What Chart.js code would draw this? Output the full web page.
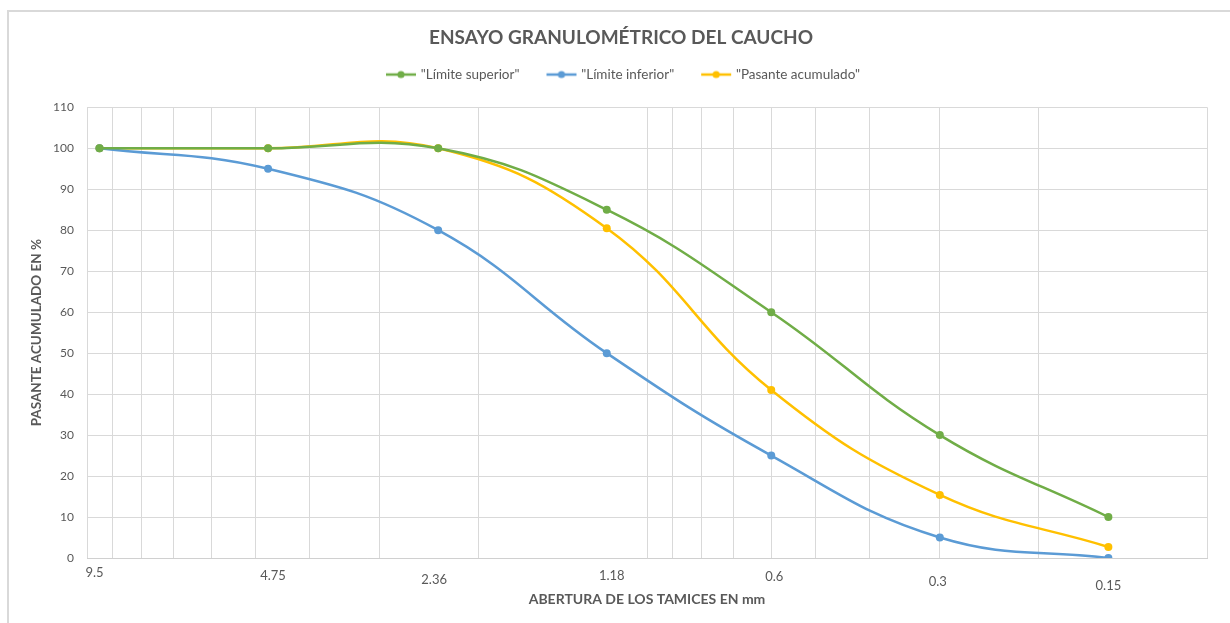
<!DOCTYPE html>
<html>
<head>
<meta charset="utf-8">
<script src="https://cdn.jsdelivr.net/npm/chart.js@4.4.1/dist/chart.umd.min.js"></script>
<style>
  html, body { margin: 0; padding: 0; background: #ffffff; overflow: hidden; }
  #wrap { position: relative; width: 1230px; height: 623px; overflow: hidden; }
  #frame { position: absolute; left: 7px; top: 10px; width: 1300px; height: 700px;
           border: 2px solid #d9d9d9; box-sizing: border-box; }
  #c { position: absolute; left: 0; top: 0; }
</style>
</head>
<body>
<div id="wrap">
  <div id="frame"></div>
  <canvas id="c" width="1242" height="623"></canvas>
</div>
<script>
// Sieve openings (mm) and cumulative passing percentages
const sieves = [9.5, 4.75, 2.36, 1.18, 0.6, 0.3, 0.15];
const sieveLabels = ['9.5', '4.75', '2.36', '1.18', '0.6', '0.3', '0.15'];
const limiteSuperior = [100, 100, 100, 85, 60, 30, 10];
const limiteInferior = [100, 95, 80, 50, 25, 5, 0];
const pasanteAcumulado = [100, 100, 100, 80.5, 41, 15.4, 2.7];

// Log-scale grid positions for the opening axis
const gridValues = [10, 9, 8, 7, 6, 5, 4, 3, 2, 1, 0.9, 0.8, 0.7, 0.6, 0.5, 0.4, 0.3, 0.2, 0.1];
const yTicks = [0, 10, 20, 30, 40, 50, 60, 70, 80, 90, 100, 110];

// Small nudges for the opening labels under the axis (px)
const labelNudgeX = [-5, 5, -4, 5, 3, -2, 0];
const labelNudgeY = [15, 18, 22, 18, 19, 24, 28];

const GREEN = '#70ad47', BLUE = '#5b9bd5', GOLD = '#ffc000';
const GRAY_TEXT = '#595959', GRID = '#d9d9d9';
const FONT = 'Lato, "Open Sans", sans-serif';

function pairs(ys) { return sieves.map((x, i) => ({ x: x, y: ys[i] })); }

// Legend swatch: short line with a dot in the middle
function swatch(color) {
  const cv = document.createElement('canvas');
  cv.width = 60; cv.height = 10;
  const g = cv.getContext('2d');
  g.strokeStyle = color; g.lineWidth = 2.5;
  g.beginPath(); g.moveTo(27, 5); g.lineTo(57, 5); g.stroke();
  g.fillStyle = color;
  g.beginPath(); g.arc(42, 5, 3.6, 0, Math.PI * 2); g.fill();
  return cv;
}

const series = [
  { label: '"Límite superior"', values: limiteSuperior, color: GREEN },
  { label: '"Límite inferior"', values: limiteInferior, color: BLUE },
  { label: '"Pasante acumulado"', values: pasanteAcumulado, color: GOLD }
];

const datasets = series.map(s => ({
  label: s.label,
  data: pairs(s.values),
  borderColor: s.color,
  backgroundColor: s.color,
  borderWidth: 2.5,
  pointRadius: 4,
  pointHoverRadius: 4,
  pointBorderWidth: 0,
  tension: 0.42,
  fill: false,
  swatchImg: swatch(s.color)
}));

// Extra room under the legend, and its row nudged left to sit under the title
const legendSpacing = {
  id: 'legendSpacing',
  beforeInit(chart) {
    const lg = chart.legend;
    const fit = lg.fit;
    lg.fit = function () { fit.call(this); this.height += 16; };
    const draw = lg.draw;
    lg.draw = function () { this.left -= 18; draw.call(this); this.left += 18; };
  }
};

const openingLabels = {
  id: 'openingLabels',
  afterDraw(chart) {
    const x = chart.scales.x, ctx = chart.ctx, b = chart.chartArea.bottom;
    ctx.save();
    ctx.font = '13px ' + FONT;
    ctx.fillStyle = GRAY_TEXT;
    ctx.textAlign = 'center';
    ctx.textBaseline = 'middle';
    sieves.forEach((v, i) => {
      ctx.fillText(sieveLabels[i], x.getPixelForValue(v) + labelNudgeX[i], b + labelNudgeY[i]);
    });
    ctx.restore();
  }
};

new Chart(document.getElementById('c'), {
  type: 'line',
  data: { datasets: datasets },
  plugins: [legendSpacing, openingLabels],
  options: {
    responsive: false,
    animation: false,
    devicePixelRatio: 1,
    layout: { padding: { top: 26, left: 0, right: 0, bottom: 15 } },
    plugins: {
      tooltip: { enabled: false },
      title: {
        display: true,
        text: 'ENSAYO GRANULOMÉTRICO DEL CAUCHO',
        color: GRAY_TEXT,
        font: { family: FONT, size: 19, weight: 'bold' },
        padding: { top: 0, bottom: 14 }
      },
      legend: {
        position: 'top',
        labels: {
          usePointStyle: true,
          pointStyleWidth: 50,
          padding: 5,
          color: GRAY_TEXT,
          font: { family: FONT, size: 13.5 },
          generateLabels(chart) {
            return chart.data.datasets.map((d, i) => ({
              text: d.label,
              fillStyle: d.borderColor,
              strokeStyle: d.borderColor,
              lineWidth: 0,
              pointStyle: d.swatchImg,
              hidden: false,
              datasetIndex: i,
              fontColor: GRAY_TEXT
            }));
          }
        }
      }
    },
    scales: {
      x: {
        type: 'logarithmic',
        reverse: true,
        min: 0.1,
        max: 10,
        afterBuildTicks(scale) { scale.ticks = gridValues.map(v => ({ value: v })); },
        afterFit(scale) { scale.height = 50; },
        ticks: { display: false },
        grid: { color: GRID, lineWidth: 1, drawTicks: false },
        border: { color: '#d0d0d0', width: 1 },
        title: {
          display: true,
          text: 'ABERTURA DE LOS TAMICES EN mm',
          color: GRAY_TEXT,
          font: { family: FONT, size: 14, weight: 'bold' },
          padding: { top: 0, bottom: 0 }
        }
      },
      y: {
        min: 0,
        max: 110,
        afterBuildTicks(scale) { scale.ticks = yTicks.map(v => ({ value: v })); },
        afterFit(scale) { scale.width = 87; },
        ticks: {
          color: GRAY_TEXT,
          padding: 13,
          font: { family: FONT, size: 12 }
        },
        grid: { color: GRID, lineWidth: 1, drawTicks: false },
        border: { display: false },
        title: {
          display: true,
          text: 'PASANTE ACUMULADO EN %',
          color: GRAY_TEXT,
          font: { family: FONT, size: 13.5, weight: 'bold' },
          padding: { top: 29, bottom: 0 }
        }
      },
      yRight: {
        position: 'right',
        display: true,
        afterFit(scale) { scale.width = 35; },
        ticks: { display: false },
        grid: { display: false, drawTicks: false },
        border: { display: false }
      }
    }
  }
});
</script>
</body>
</html>
